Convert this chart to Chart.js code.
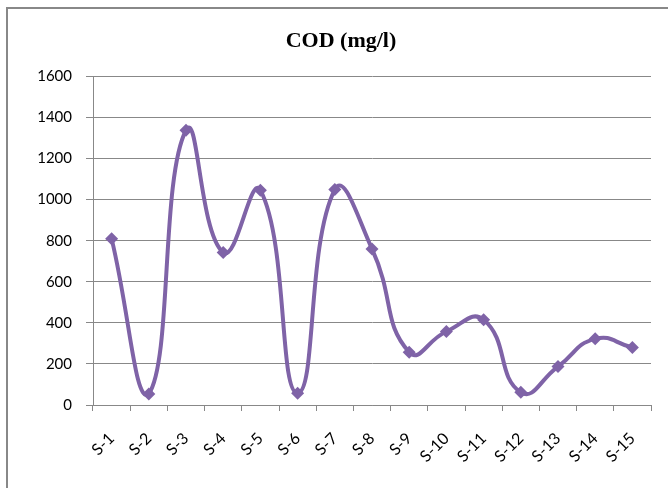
<!DOCTYPE html>
<html>
<head>
<meta charset="utf-8">
<script src="https://cdn.jsdelivr.net/npm/chart.js@4/dist/chart.umd.min.js"></script>
<style>
  body { margin: 0; background: #fff; }
  #wrap { position: relative; width: 668px; height: 488px; }
  #frame { position: absolute; left: 6px; top: 7px; right: -4px; bottom: -4px; border: 2px solid #888; pointer-events: none; }
</style>
</head>
<body>
<div id="wrap">
  <canvas id="chart" width="668" height="488"></canvas>
  <div id="frame"></div>
</div>
<script>
const samples = ['S-1', 'S-2', 'S-3', 'S-4', 'S-5', 'S-6', 'S-7', 'S-8',
                 'S-9', 'S-10', 'S-11', 'S-12', 'S-13', 'S-14', 'S-15'];
const codValues = [810, 54, 1338, 743, 1046, 57, 1049, 760, 257, 358, 415, 62, 187, 322, 280];
const yTicks = [0, 200, 400, 600, 800, 1000, 1200, 1400, 1600];

const purple = '#7f63a7';

new Chart(document.getElementById('chart'), {
    type: 'line',
    data: {
        labels: samples,
        datasets: [{
            label: 'COD (mg/l)',
            data: codValues,
            borderColor: purple,
            backgroundColor: purple,
            borderWidth: 4,
            tension: 0.5,
            pointStyle: 'rectRot',
            pointRadius: 6.5,
            pointHoverRadius: 6.5,
            pointBorderWidth: 0
        }]
    },
    options: {
        responsive: false,
        animation: false,
        layout: { padding: { left: 31, right: 17, top: 28, bottom: 0 } },
        plugins: {
            legend: { display: false },
            tooltip: { enabled: false },
            title: {
                display: true,
                text: 'COD (mg/l)',
                color: '#000',
                font: { family: 'Liberation Serif', size: 22, weight: 'bold' },
                padding: { top: 0, bottom: 22 }
            }
        },
        scales: {
            x: {
                offset: true,
                afterFit: (scale) => { scale.height = 83; },
                grid: {
                    offset: true,
                    drawOnChartArea: false,
                    color: '#888',
                    tickLength: 6
                },
                border: { color: '#888', width: 1 },
                ticks: {
                    color: '#000',
                    minRotation: 45,
                    maxRotation: 45,
                    padding: 18,
                    font: { family: 'Lato', size: 16 }
                }
            },
            y: {
                min: 0,
                max: 1600,
                afterBuildTicks: (scale) => {
                    scale.ticks = yTicks.map(v => ({ value: v }));
                },
                afterFit: (scale) => { scale.width = 62; },
                grid: { color: '#888', tickLength: 7 },
                border: { color: '#888', width: 1 },
                ticks: {
                    color: '#000',
                    padding: 14,
                    font: { family: 'Lato', size: 15 },
                    callback: (v) => String(v)
                }
            }
        }
    }
});
</script>
</body>
</html>
